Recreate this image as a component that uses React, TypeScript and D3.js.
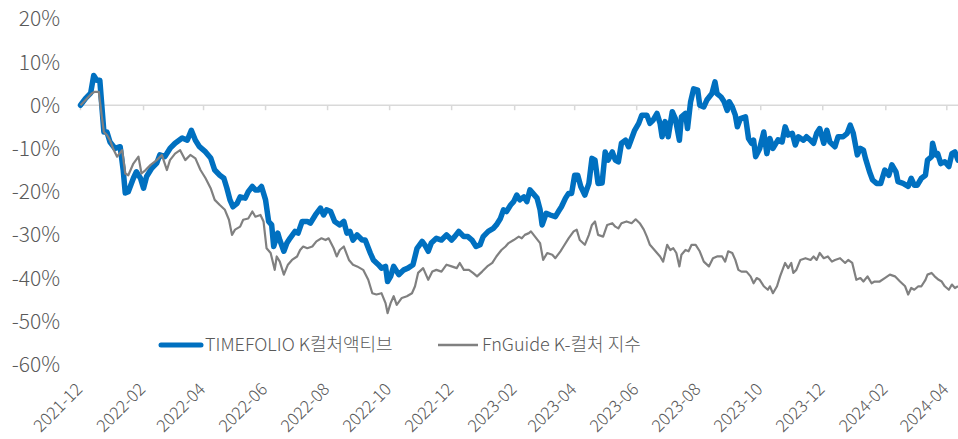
import React from 'react';
import * as d3 from 'd3';

const blueDates = [
  '2021-12-01','2021-12-06','2021-12-11','2021-12-14','2021-12-17','2021-12-20','2021-12-24','2021-12-27','2021-12-30',
  '2022-01-04','2022-01-09','2022-01-12','2022-01-14','2022-01-17','2022-01-22','2022-01-25','2022-01-29',
  '2022-02-01','2022-02-04','2022-02-09','2022-02-14','2022-02-17','2022-02-22','2022-02-27',
  '2022-03-04','2022-03-11','2022-03-16','2022-03-20','2022-03-24','2022-03-28',
  '2022-04-03','2022-04-08','2022-04-12','2022-04-17','2022-04-21','2022-04-24','2022-04-27','2022-04-30',
  '2022-05-04','2022-05-07','2022-05-12','2022-05-15','2022-05-19','2022-05-22','2022-05-25','2022-05-28',
  '2022-06-01','2022-06-04','2022-06-07','2022-06-09','2022-06-13','2022-06-15','2022-06-19','2022-06-22','2022-06-25','2022-06-30',
  '2022-07-03','2022-07-07','2022-07-12','2022-07-15','2022-07-20','2022-07-25','2022-07-28','2022-07-31',
  '2022-08-04','2022-08-08','2022-08-13','2022-08-17','2022-08-20','2022-08-23','2022-08-26','2022-08-30',
  '2022-09-04','2022-09-07','2022-09-12','2022-09-15','2022-09-20','2022-09-23','2022-09-27','2022-09-29',
  '2022-10-02','2022-10-05','2022-10-10','2022-10-15','2022-10-19','2022-10-24','2022-10-28',
  '2022-11-02','2022-11-05','2022-11-08','2022-11-11','2022-11-16','2022-11-21','2022-11-26',
  '2022-12-01','2022-12-04','2022-12-08','2022-12-13','2022-12-17','2022-12-21','2022-12-25','2022-12-29',
  '2023-01-01','2023-01-06','2023-01-11','2023-01-14','2023-01-18','2023-01-21','2023-01-24','2023-01-28','2023-01-31',
  '2023-02-03','2023-02-06','2023-02-10','2023-02-13','2023-02-16','2023-02-19','2023-02-23','2023-02-26','2023-02-28',
  '2023-03-04','2023-03-08','2023-03-13','2023-03-16','2023-03-19','2023-03-23','2023-03-26','2023-03-29',
  '2023-04-01','2023-04-04','2023-04-07','2023-04-11','2023-04-15','2023-04-18','2023-04-21','2023-04-24','2023-04-28',
  '2023-05-01','2023-05-04','2023-05-08','2023-05-11','2023-05-14','2023-05-17','2023-05-21','2023-05-24','2023-05-27','2023-05-30',
  '2023-06-03','2023-06-06','2023-06-11','2023-06-14','2023-06-17','2023-06-21','2023-06-24','2023-06-26','2023-06-29',
  '2023-07-02','2023-07-06','2023-07-09','2023-07-13','2023-07-15','2023-07-19','2023-07-21','2023-07-24','2023-07-27','2023-07-31',
  '2023-08-02','2023-08-06','2023-08-09','2023-08-14','2023-08-17','2023-08-19','2023-08-23','2023-08-26','2023-08-29','2023-08-31',
  '2023-09-03','2023-09-06','2023-09-08','2023-09-11','2023-09-16','2023-09-19','2023-09-22','2023-09-24','2023-09-26','2023-09-30',
  '2023-10-04','2023-10-07','2023-10-10','2023-10-13','2023-10-18','2023-10-22','2023-10-25','2023-10-28',
  '2023-11-01','2023-11-04','2023-11-07','2023-11-12','2023-11-15','2023-11-19','2023-11-22','2023-11-25','2023-11-28',
  '2023-12-02','2023-12-05','2023-12-08','2023-12-13','2023-12-16','2023-12-21','2023-12-25','2023-12-28','2023-12-31',
  '2024-01-04','2024-01-07','2024-01-10','2024-01-12','2024-01-16','2024-01-19','2024-01-23','2024-01-27','2024-01-31',
  '2024-02-04','2024-02-07','2024-02-11','2024-02-13','2024-02-18','2024-02-23','2024-02-26','2024-02-29',
  '2024-03-03','2024-03-07','2024-03-11','2024-03-13','2024-03-17','2024-03-18','2024-03-21','2024-03-23','2024-03-26','2024-03-30',
  '2024-04-03','2024-04-06','2024-04-09','2024-04-12',
];
const blueValues = [
  0, 1.6, 2.8, 6.9, 5.8, 5.8, -6.2, -6.2, -8.5,
  -10, -9.6, -15, -20.3, -20, -16.9, -15.4, -16.9,
  -19.2, -16.5, -14.6, -13.4, -11.5, -11.9, -10,
  -8.8, -7.6, -8.1, -5.8, -8.1, -9.6,
  -10.8, -12.2, -15, -16.2, -16.9, -19.2, -21.9, -23.5,
  -22.7, -21.2, -21.5, -20, -18.8, -19.6, -19.6, -18.8,
  -21.9, -26.9, -27.7, -32.7, -29.6, -31.2, -33.8, -31.9, -30.8, -29.2,
  -29.6, -26.9, -26.9, -27.3, -25.4, -23.8, -25.4, -24.2,
  -24.6, -26.9, -27.7, -26.9, -29.6, -29.2, -31.2, -30,
  -31.2, -31.2, -34.2, -35.8, -36.9, -37.7, -37.3, -40.8,
  -39.6, -37.3, -39.2, -38.1, -37.7, -36.9, -33.1,
  -31.5, -32.5, -33.8, -31.9, -30.8, -31.2, -30,
  -31.2, -30.4, -29.2, -30.4, -30.4, -31.2, -32.7, -32.3,
  -30.4, -29.2, -28.5, -27.7, -26.2, -24.2, -24.6, -23.1, -22.3,
  -20.8, -21.9, -21.2, -22.3, -19.6, -20.4, -21.5, -24.2, -27.7,
  -25, -25.4, -25.8, -24.6, -23.5, -21.5, -20.4, -20.4,
  -16.2, -16.2, -18.8, -20.8, -18.1, -12.3, -12.7, -18.1, -18,
  -10.8, -12.7, -10.8, -12.7, -13.1, -8.8, -8.1, -9.6, -7.7, -5.8,
  -4.2, -2.3, -2.3, -4.2, -3.5, -1.9, -4.2, -7.3, -3.8,
  -7.3, -1.5, -3.1, -8.1, -2.7, -1.9, -5.4, 0.8, 3.8, 3.5,
  0, -0.4, 1.2, 2.7, 5.4, 2.7, 1.9, 0.8, -1.2, 0.8,
  -0.4, -2.3, -5, -3.1, -2.7, -7.7, -8.8, -8.1, -11.9, -10,
  -6.2, -11.2, -7.7, -10, -8, -8.5, -5, -6.9,
  -6.5, -9.2, -7.3, -8.1, -7.3, -8.1, -8.8, -6.5, -5.4,
  -8.8, -5.8, -8.5, -9.6, -7.3, -7.3, -6.5, -4.6, -6.5,
  -11.5, -10, -10.4, -12.3, -15.4, -17.3, -18.1, -18.1, -15,
  -16.2, -13.8, -15.4, -17.7, -18.1, -18.8, -16.9, -18.5,
  -18.5, -16.9, -16.2, -12.7, -11.9, -8.8, -11.5, -11.2, -13.5, -13.1,
  -14.2, -11.2, -10.8, -12.7,
];

const grayDates = [
  '2021-12-01','2021-12-06','2021-12-12','2021-12-15','2021-12-19','2021-12-22','2021-12-24','2021-12-27','2021-12-30',
  '2022-01-02','2022-01-06','2022-01-11','2022-01-14','2022-01-17','2022-01-22','2022-01-27','2022-01-30',
  '2022-02-03','2022-02-08','2022-02-14','2022-02-19','2022-02-24','2022-02-27',
  '2022-03-04','2022-03-09','2022-03-14','2022-03-19','2022-03-24','2022-03-29',
  '2022-04-03','2022-04-08','2022-04-12','2022-04-17','2022-04-22','2022-04-26','2022-04-29',
  '2022-05-02','2022-05-07','2022-05-10','2022-05-15','2022-05-19','2022-05-22','2022-05-27','2022-05-30',
  '2022-06-02','2022-06-06','2022-06-10','2022-06-12','2022-06-15','2022-06-19','2022-06-23','2022-06-27',
  '2022-07-02','2022-07-05','2022-07-08','2022-07-12','2022-07-17','2022-07-21','2022-07-26','2022-07-30',
  '2022-08-02','2022-08-07','2022-08-10','2022-08-13','2022-08-17','2022-08-22','2022-08-26','2022-08-30',
  '2022-09-05','2022-09-10','2022-09-14','2022-09-18','2022-09-23','2022-09-27','2022-09-29',
  '2022-10-02','2022-10-05','2022-10-08','2022-10-13','2022-10-18','2022-10-23','2022-10-26','2022-10-29',
  '2022-11-03','2022-11-05','2022-11-08','2022-11-12','2022-11-16','2022-11-21','2022-11-26',
  '2022-12-01','2022-12-06','2022-12-09','2022-12-13','2022-12-18','2022-12-22','2022-12-26','2022-12-31',
  '2023-01-05','2023-01-10','2023-01-14','2023-01-19','2023-01-23','2023-01-26','2023-01-31',
  '2023-02-05','2023-02-08','2023-02-11','2023-02-15','2023-02-17','2023-02-21','2023-02-26',
  '2023-03-01','2023-03-05','2023-03-10','2023-03-13','2023-03-18','2023-03-21','2023-03-26','2023-03-31',
  '2023-04-03','2023-04-06','2023-04-11','2023-04-15','2023-04-18','2023-04-21','2023-04-24','2023-04-29',
  '2023-05-03','2023-05-08','2023-05-11','2023-05-14','2023-05-17','2023-05-22','2023-05-27','2023-05-31',
  '2023-06-04','2023-06-08','2023-06-11','2023-06-14','2023-06-17','2023-06-21','2023-06-24','2023-06-27',
  '2023-07-01','2023-07-04','2023-07-07','2023-07-10','2023-07-13','2023-07-15','2023-07-19','2023-07-22','2023-07-25','2023-07-29',
  '2023-08-02','2023-08-06','2023-08-11','2023-08-15','2023-08-19','2023-08-24','2023-08-27','2023-08-30',
  '2023-09-03','2023-09-06','2023-09-09','2023-09-12','2023-09-17','2023-09-21','2023-09-24','2023-09-27','2023-09-30',
  '2023-10-04','2023-10-08','2023-10-10','2023-10-13','2023-10-17','2023-10-20','2023-10-25','2023-10-28','2023-10-31',
  '2023-11-02','2023-11-05','2023-11-09','2023-11-14','2023-11-19','2023-11-22','2023-11-25','2023-11-28',
  '2023-12-02','2023-12-06','2023-12-10','2023-12-13','2023-12-18','2023-12-23','2023-12-26','2023-12-30',
  '2024-01-03','2024-01-07','2024-01-10','2024-01-14','2024-01-18','2024-01-21','2024-01-26','2024-01-31',
  '2024-02-05','2024-02-10','2024-02-15','2024-02-20','2024-02-23','2024-02-26','2024-02-29',
  '2024-03-04','2024-03-07','2024-03-11','2024-03-13','2024-03-17','2024-03-20','2024-03-24','2024-03-27','2024-03-30',
  '2024-04-03','2024-04-06','2024-04-09','2024-04-12',
];
const grayValues = [
  0, 1.2, 2.7, 3.1, 3.1, -2.7, -6.2, -6.9, -8.1,
  -10, -11.9, -10.4, -15.8, -16.2, -13.5, -11.9, -15.8,
  -15, -13.8, -12.7, -11.5, -15, -12.7,
  -11.2, -10.4, -12.7, -11.5, -12.3, -15,
  -16.9, -19.2, -21.9, -23.1, -24.2, -26.5, -30,
  -28.8, -28.1, -26.5, -26.2, -24.6, -25.8, -25.4, -26.9,
  -33.1, -34.2, -38.1, -35, -36.2, -39.2, -36.9, -35.8,
  -35, -33.5, -32.7, -33.1, -32.7, -31.5, -30.8, -31.2,
  -30.8, -33.1, -35, -33.5, -32.7, -35.8, -36.9, -37.3,
  -38.1, -40.4, -43.5, -43.8, -43.5, -45.8, -48.1,
  -45.8, -44.2, -46.2, -44.6, -44.2, -43.5, -41.9, -38.8,
  -37.7, -38.8, -40.4, -38.5, -38.1, -38.5, -36.9,
  -37.3, -37.7, -36.5, -38.1, -38.1, -38.8, -39.6, -38.5,
  -37.3, -36.5, -35, -33.5, -32.7, -31.9, -31.2,
  -30.4, -30.8, -30, -29.6, -29.2, -30.4, -31.9,
  -35.8, -34.2, -34.6, -35.4, -33.8, -32.7, -30.8, -29.2,
  -28.8, -31.2, -32.3, -30, -27.7, -26.9, -30, -30.4,
  -27.7, -27.3, -28.1, -28.5, -27.3, -26.9, -27.3, -26.4,
  -27.3, -28.8, -30.4, -32.3, -33.1, -34.2, -35, -36.2,
  -32.3, -33.5, -33.1, -34.2, -37.3, -34.6, -33.5, -33.8, -32.3, -32.3,
  -33.8, -36.2, -37.3, -35.4, -35, -35, -36.2, -33.8,
  -34.2, -35.8, -38.1, -38.5, -38.5, -39.6, -41.2, -40, -40.4,
  -41.9, -42.7, -41.9, -43.5, -41.9, -39.6, -36.5, -37.7, -36.5,
  -38.8, -38.1, -35.8, -35.4, -35.8, -35, -35.8, -34.2,
  -35.4, -35, -36.2, -35.8, -35.4, -36.5, -35.8, -36.5,
  -40.4, -40, -40.8, -39.6, -41.2, -40.8, -40.8, -40,
  -39.2, -39.6, -40.8, -41.9, -43.8, -42.3, -42.7,
  -41.9, -41.9, -40.4, -39.2, -38.8, -39.6, -40.4, -40.8, -41.9,
  -42.7, -41.5, -42.3, -41.9,
];

const xTickLabels = [
  '2021-12','2022-02','2022-04','2022-06','2022-08','2022-10','2022-12',
  '2023-02','2023-04','2023-06','2023-08','2023-10','2023-12','2024-02','2024-04',
];
const yTickValues = [20, 10, 0, -10, -20, -30, -40, -50, -60];
const seriesNames = ['TIMEFOLIO K컬처액티브', 'FnGuide K-컬처 지수'];
const seriesColors = ['#0070C0', '#808080'];

const W = 958;
const H = 439;
const FONT = "'Noto Sans CJK KR', 'Noto Sans', sans-serif";

export default function App() {
  const parseDay = d3.timeParse('%Y-%m-%d');
  const parseMonth = d3.timeParse('%Y-%m');

  const x = d3
    .scaleTime()
    .domain([parseDay('2021-12-01') as Date, parseDay('2024-04-12') as Date])
    .range([80.5, 958]);
  const y = d3.scaleLinear().domain([-60, 20]).range([364.5, 18.8]);

  const mk = (dates: string[], vals: number[]) =>
    dates.map((d, i) => ({ date: parseDay(d) as Date, v: vals[i] }));
  const blue = mk(blueDates, blueValues);
  const gray = mk(grayDates, grayValues);

  const line = d3
    .line<{ date: Date; v: number }>()
    .x((d) => x(d.date))
    .y((d) => y(d.v));

  const ticks = xTickLabels.map((l) => ({ label: l, px: x(parseMonth(l) as Date) }));
  const y0 = y(0);

  return (
    <div style={{ position: 'absolute', left: 0, top: 0, width: W, height: H, background: '#fff' }}>
      <svg width={W} height={H} style={{ display: 'block', fontFamily: FONT, fontWeight: 300 }}>
        <line x1={x.range()[0]} x2={W} y1={y0} y2={y0} stroke="#d9d9d9" strokeWidth={1.5} />
        {ticks.map((t) => (
          <line key={'tk' + t.label} x1={t.px} x2={t.px} y1={y0} y2={y0 + 5} stroke="#d9d9d9" strokeWidth={1.5} />
        ))}
        {yTickValues.map((v) => (
          <text key={'y' + v} x={60} y={y(v)} dy="0.36em" textAnchor="end" fontSize={21} fill="#595959">
            {v + '%'}
          </text>
        ))}
        {ticks.map((t) => (
          <text
            key={'x' + t.label}
            transform={`translate(${t.px - 5.5},${382}) rotate(-45)`}
            textAnchor="end"
            dy="0.7em"
            fontSize={17}
            fill="#595959"
          >
            {t.label}
          </text>
        ))}
        <path d={line(blue) || ''} fill="none" stroke={seriesColors[0]} strokeWidth={5.5} strokeLinejoin="round" strokeLinecap="round" />
        <path d={line(gray) || ''} fill="none" stroke={seriesColors[1]} strokeWidth={2.2} strokeLinejoin="round" />
        <line x1={161} x2={201} y1={345} y2={345} stroke={seriesColors[0]} strokeWidth={5} strokeLinecap="round" />
        <text x={205} y={345} dy="0.36em" fontSize={18} fill="#595959">
          {seriesNames[0]}
        </text>
        <line x1={438} x2={478} y1={345} y2={345} stroke={seriesColors[1]} strokeWidth={2.5} />
        <text x={482} y={345} dy="0.36em" fontSize={18} fill="#595959">
          {seriesNames[1]}
        </text>
      </svg>
    </div>
  );
}
